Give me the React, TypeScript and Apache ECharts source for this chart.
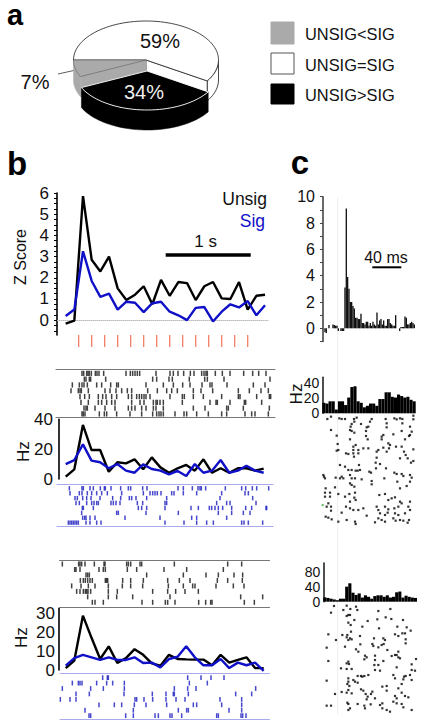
import React, { useEffect, useRef } from "react";
import * as echarts from "echarts";

const FONT = "'Liberation Sans', Arial, sans-serif";

// Panel a: share of cells
const pieNames = ["UNSIG=SIG", "UNSIG>SIG", "UNSIG<SIG"];
const pieValues = [59, 34, 7];
const pieLabels = ["59%", "34%", "7%"];

// Panel b: population z score, one value per 100 ms bin
const zUnsig = [-0.16, -0.02, 5.85, 2.85, 2.3, 3.0, 1.5, 0.95, 1.2, 1.6, 0.75, 1.9, 1.15, 1.8, 1.75, 0.95, 1.6, 1.8, 1.03, 1.0, 1.8, 0.5, 1.15, 1.2];
const zSig = [0.2, 0.5, 3.25, 1.85, 1.1, 1.25, 0.5, 0.87, 0.82, 0.38, 0.8, 0.87, 0.4, 0.23, 0, 0.58, 0.62, -0.06, 0.4, 0.75, 0.6, 0.9, 0.23, 0.7];
const stimBins = [1.5, 3, 4.5, 6, 7.5, 9, 10.5, 12, 13.5, 15, 16.5, 18, 19.5, 21];
const zTicks = [-0.5, -0.25, 0, 0.25, 0.5, 0.75, 1, 1.25, 1.5, 1.75, 2, 2.25, 2.5, 2.75, 3, 3.25, 3.5, 3.75, 4, 4.25, 4.5, 4.75, 5, 5.25, 5.5, 5.75, 6];

// Panel b: single-cell firing rates
const hz1Unsig = [1.6, 6.5, 36.2, 19.4, 19.4, 4.9, 11.2, 10.5, 13.2, 6.5, 14.5, 7.8, 4.2, 7.2, 9.4, 5.6, 13.2, 4.2, 7.2, 4.2, 7.2, 7.2, 5.6, 6.9];
const hz1Sig = [10, 12.7, 23.2, 12.3, 11.2, 7.2, 10, 5.6, 4.2, 9.8, 6.7, 5.6, 3.1, 5.4, 2, 10, 4.2, 5.6, 12.7, 4.2, 5.6, 8.9, 5.6, 4.2];
const hz2Unsig = [1, 5, 28.7, 17, 5.8, 12.5, 3.7, 6.3, 11, 8, 3.5, 2.3, 8, 5.8, 5.6, 5.5, 5.5, 2.5, 8, 3.9, 5.3, 6.7, 1, 1];
const hz2Sig = [2.3, 6.3, 8, 6.7, 5.3, 6.7, 5.3, 5.3, 6.7, 3.7, 3.9, 1.4, 5.8, 7, 12.5, 6.7, 2.5, 2.5, 5.8, 1, 3.9, 2.5, 3.9, -0.4];

// Panel b rasters: spike times per trial, in thirds of a picture pixel along the time axis
const rasterUnsig1 = [
  [246, 251, 260, 264, 268, 274, 286, 291, 297, 311, 378, 391, 398, 405, 412, 419, 468, 510, 520, 534, 551, 571, 582, 605, 612, 618, 622, 646, 667, 690, 731, 758, 776, 798],
  [253, 258, 268, 272, 317, 458, 470, 507, 517, 568, 614, 622, 672, 810],
  [217, 238, 246, 252, 262, 290, 305, 332, 350, 355, 438, 490, 520, 548, 570, 606, 630, 636, 681, 760, 795],
  [213, 235, 240, 244, 265, 315, 330, 348, 365, 382, 395, 443, 472, 500, 515, 532, 580, 603, 638, 715, 748, 783, 805],
  [240, 254, 268, 295, 308, 318, 335, 350, 385, 395, 410, 418, 425, 432, 438, 450, 510, 547, 553, 580, 610, 665, 715, 720, 770, 808, 812],
  [243, 265, 295, 305, 320, 335, 345, 395, 420, 432, 460, 468, 472, 480, 490, 547, 630, 648, 652, 690, 733, 737, 785],
  [252, 258, 262, 285, 315, 345, 385, 395, 405, 425, 438, 460, 468, 490, 580, 615, 680, 685, 730, 808],
  [246, 250, 255, 298, 313, 320, 350, 390, 425, 458, 470, 477, 483, 490, 525, 552, 560, 590, 625, 665, 680, 735, 755, 765, 805],
];
const rasterSig1 = [
  [208, 246, 250, 270, 280, 301, 313, 316, 333, 362, 385, 392, 428, 441, 534, 550, 577, 594, 600, 604, 617, 676, 725, 737, 757, 770, 806],
  [210, 238, 246, 262, 275, 290, 305, 322, 365, 430, 450, 458, 465, 472, 483, 515, 522, 550, 590, 665, 735, 745],
  [225, 232, 248, 260, 273, 300, 338, 362, 388, 395, 408, 440, 500, 660, 758],
  [228, 238, 260, 275, 282, 290, 295, 333, 340, 348, 360, 412, 428, 495, 500, 650, 680, 690, 768],
  [247, 250, 280, 415, 425, 440, 495, 573, 595, 628, 635, 645, 655, 668, 695, 737, 755, 798, 800],
  [245, 350, 355, 438, 535, 655, 695, 730, 750],
  [248, 254, 258, 270, 285, 375, 480, 575, 590, 680],
  [205, 210, 215, 220, 225, 230, 235, 258, 270, 290, 303, 495, 552, 590, 620, 640, 725, 732, 745, 788],
];
const rasterUnsig2 = [
  [187, 236, 240, 245, 255, 283, 312, 315, 380, 385, 392, 420, 425, 523, 683, 725],
  [224, 228, 240, 297, 310, 316, 382, 410, 492, 560, 670],
  [258, 263, 268, 440, 550, 618, 655, 702, 728],
  [241, 250, 256, 263, 270, 277, 316, 320, 323, 368, 392, 430, 503, 538, 570, 652, 683, 727],
  [215, 243, 265, 285, 325, 367, 392, 428, 505, 550, 578, 585, 648, 700, 732],
  [230, 240, 250, 256, 260, 264, 272, 325, 352, 458, 503, 527, 555, 595],
  [263, 325, 350, 398, 510, 722, 788],
  [277, 285, 310, 426, 458, 496, 503, 525, 596, 617, 632, 636, 733, 763],
];
const rasterSig2 = [
  [308, 322, 325, 563, 603, 633, 672],
  [217, 235, 240, 246, 290, 320, 338, 373, 568, 622],
  [187, 272, 310, 373, 523, 563, 588, 767],
  [228, 268, 372, 457, 498, 520, 523, 565, 707, 755],
  [181, 210, 228, 405, 410, 432, 458, 498, 528, 555, 660, 725],
  [297, 343, 365, 403, 438, 500, 580, 590, 665, 725],
  [255, 400, 535, 560, 565, 687, 725],
  [267, 272, 377, 400, 465, 475, 510, 516, 545, 650, 655, 723, 728, 738],
];

// Panel c: histograms
const histTop = [-0.3, -0.35, 0, 0.25, 0, 0, 0.3, 0.25, 0.2, 0.2, -0.2, 0, -0.2, -0.2, -0.2, 3.1, 9.1, 3.9, 3, 2, 2, 1.7, 1.5, 0.8, 0.8, 0.7, 0.7, 1.1, 0.4, 0.4, 0.3, 0.5, 0.5, 0.2, 0.4, 0.2, 0.5, 0.3, 0.2, 1.2, 0.3, 0.6, 0.7, 0.3, 0.6, 0.2, 0.2, 0.7, 0.7, 0.4, 0.3, 0.2, 0.2, 1, 0, 0, -0.2, 0.1, 0.1, 0.1, 0.9, 0.8, 0.3, 0.3, 0.4, 0.5, 0.4, 0.3];
const histMid = [14, 13, 16, 16, 5, 16, 16, 11, 21, 35, 36, 16, 14, 8, 10, 13, 13, 10, 19, 19, 28, 28, 22, 21, 25, 23, 21, 22, 18, 16];
const histBot = [11.5, 10, 8, 6, 4, 8, 8, 40, 49, 24, 18, 22, 11, 17, 13, 8, 15, 17, 17, 13, 17, 11, 13, 25, 27, 11, 16, 13, 11, 10];

// Panel c: dot rasters, [time, trial position], both in thirds of a picture pixel
const dotsMid = [[127,207],[138,200],[163,205],[170,207],[180,207],[207,207],[215,203],[260,207],[302,207],[328,205],[335,208],[345,205],[352,207],[385,197],[385,208],[208,215],[228,222],[255,215],[305,220],[352,220],[200,222],[197,230],[245,232],[250,230],[375,230],[305,232],[138,240],[195,240],[200,243],[208,248],[243,243],[350,243],[380,245],[375,255],[372,258],[295,255],[290,260],[325,253],[155,257],[243,258],[195,268],[248,268],[290,268],[360,268],[158,282],[205,290],[212,285],[310,280],[315,285],[333,290],[350,290],[235,295],[250,295],[295,293],[280,300],[155,302],[160,300],[205,300],[220,300],[183,310],[190,312],[205,310],[220,310],[275,305],[312,295],[305,305],[357,305],[385,298],[362,315],[345,325],[368,325],[385,333],[207,320],[275,323],[378,338],[285,342],[272,338],[165,345],[180,350],[222,345],[190,360],[200,360],[212,362],[218,362],[225,360],[253,365],[258,368],[273,355],[303,355],[328,368],[335,372],[350,372],[355,378],[375,375],[380,383],[115,375],[117,380],[120,385],[152,383],[170,380],[175,385],[165,385],[195,375],[200,385],[210,385],[260,393],[260,403],[230,388],[298,385],[195,400],[200,405],[337,395],[375,395],[365,408],[208,410],[122,415],[150,412],[120,428],[135,428],[135,440],[120,440],[160,432],[193,432],[210,428],[300,432],[283,435],[345,415],[320,445],[330,442],[375,455],[180,440],[208,443],[212,450],[195,455],[310,450],[345,455],[350,460],[340,470],[130,460],[125,470],[138,470],[138,482],[183,470],[195,475],[205,480],[220,480],[235,475],[275,470],[280,480],[300,470],[310,478],[328,475],[370,470],[375,480],[170,488],[245,497],[270,517],[285,490],[300,495],[308,488],[330,490],[340,495],[360,490],[122,500],[130,503],[140,508],[160,515],[185,510],[210,515],[212,522],[290,510],[300,515],[325,505],[332,512],[345,510],[355,512],[368,518],[372,510],[280,505]];
const dotsMidGreen = [[113,465]];
const dotsBot = [[147,198],[138,218],[175,210],[185,197],[196,207],[213,200],[217,210],[280,213],[316,207],[190,225],[185,228],[195,225],[208,240],[248,243],[277,238],[302,232],[319,237],[354,240],[190,248],[197,255],[232,260],[337,260],[365,262],[377,272],[282,265],[198,275],[130,283],[172,285],[187,285],[185,292],[195,295],[200,298],[190,300],[225,288],[330,283],[340,288],[360,280],[352,280],[153,300],[362,298],[362,310],[267,295],[295,295],[300,300],[262,312],[265,318],[180,320],[125,323],[226,313],[290,315],[296,312],[280,322],[213,328],[220,335],[307,330],[340,335],[335,345],[240,347],[245,352],[238,358],[270,347],[330,345],[320,348],[130,363],[190,365],[185,370],[192,372],[270,360],[295,363],[340,352],[345,355],[393,357],[168,385],[185,387],[200,387],[268,375],[280,375],[380,373],[335,382],[270,390],[285,392],[380,390],[250,405],[238,408],[325,405],[357,410],[362,408],[375,405],[390,392],[218,408],[228,408],[232,410],[190,415],[205,420],[210,425],[330,415],[355,418],[380,420],[125,422],[190,425],[187,432],[193,438],[218,428],[228,448],[235,452],[305,438],[292,440],[350,432],[340,445],[190,450],[170,456],[185,458],[200,460],[150,462],[242,462],[248,470],[245,478],[258,462],[262,455],[270,475],[330,468],[335,475],[360,468],[370,472],[350,458],[305,452],[125,497],[138,497],[187,488],[190,492],[195,505],[190,510],[218,492],[238,497],[240,505],[257,493],[285,495],[292,505],[305,510],[315,515],[325,485],[335,490],[350,492],[355,502],[380,510],[292,490]];

const BLACK = "#000000";
const BLUE = "#1010c8";
const FAINT_BLUE = "#a9a9ee";

function arcPoints(cx: number, cy: number, rx: number, ry: number, a0: number, a1: number) {
  const n = Math.max(2, Math.ceil(Math.abs(a1 - a0) / 3));
  const pts: number[][] = [];
  for (let i = 0; i <= n; i++) {
    const t = ((a0 + ((a1 - a0) * i) / n) * Math.PI) / 180;
    pts.push([cx + rx * Math.cos(t), cy + ry * Math.sin(t)]);
  }
  return pts;
}

function renderSlice(params: any, api: any) {
  const idx = params.dataIndex;
  const value = api.value(0);
  let start = 180;
  for (let i = 0; i < idx; i++) start += (pieValues[i] * 360) / 100;
  const end = start + (value * 360) / 100;
  const rx = 72.5;
  const ry = 39;
  const children: any[] = [];
  const poly = (points: number[][], style: any, z2: number) =>
    children.push({ type: "polygon", shape: { points }, style, z2 });
  const norm = (a: number) => ((a % 360) + 360) % 360;

  if (idx === 0) {
    const cx = 146, cy = 60, d = 20;
    const s = { fill: "#fff", stroke: "#333", lineWidth: 0.9 };
    const top = arcPoints(cx, cy, rx, ry, 360, end);
    const bot = arcPoints(cx, cy + d, rx, ry, end, 360);
    poly([...top, ...bot], s, 1);
    const e = arcPoints(cx, cy, rx, ry, end, end)[0];
    poly([[cx, cy], e, [e[0], e[1] + d], [cx, cy + d]], s, 1);
    poly([[cx, cy], ...arcPoints(cx, cy, rx, ry, start, end)], s, 2);
  } else if (idx === 1) {
    const cx = 147, cy = 71, d = 20;
    const a0 = norm(start), a1 = a0 + (value * 360) / 100;
    const top = arcPoints(cx, cy, rx, ry, a0, a1);
    const bot = arcPoints(cx, cy + d, rx, ry, a1, a0);
    poly([...top, ...bot], { fill: "#000", stroke: "#000", lineWidth: 0.5 }, 6);
    poly([[cx, cy], ...top], { fill: "#000", stroke: "#fff", lineWidth: 0.9 }, 7);
  } else {
    const cx = 146, cy = 60, d = 20;
    const a0 = norm(start), a1 = a0 + (value * 360) / 100;
    const fill = "#aaaaaa";
    const top = arcPoints(cx, cy, rx, ry, a0, a1);
    const bot = arcPoints(cx, cy + d, rx, ry, a1, a0);
    poly([...top, ...bot], { fill, stroke: fill, lineWidth: 0.5 }, 3);
    const e = top[0];
    poly([[cx, cy], e, [e[0], e[1] + d], [cx, cy + d]], { fill, stroke: fill, lineWidth: 0.5 }, 3);
    poly([[cx, cy], ...top], { fill, stroke: "#666", lineWidth: 0.7 }, 4);
  }
  const labelPos = [[160, 41, "#111"], [144, 92, "#eee"], [35, 82, "#111"]][idx];
  children.push({
    type: "text",
    z2: 9,
    style: {
      x: labelPos[0],
      y: labelPos[1],
      text: pieLabels[idx],
      fill: labelPos[2],
      font: `20px ${FONT}`,
      textAlign: "center",
      textVerticalAlign: "middle",
    },
  });
  return { type: "group", children };
}

function pairs(values: number[]) {
  return values.map((v, i) => [i, v]);
}

function rowsToPoints(rows: number[][]) {
  return rows.flatMap((r, i) => r.map((t) => [t, i + 1]));
}

export default function App() {
  const ref = useRef<HTMLDivElement>(null);
  useEffect(() => {
    if (!ref.current) return;
    const chart = echarts.init(ref.current, undefined, { renderer: "svg", width: 423, height: 726 });

    const grids: any[] = [];
    const xAxes: any[] = [];
    const yAxes: any[] = [];
    const series: any[] = [];

    const addGrid = (l: number, t: number, r: number, b: number, x: any, y: any, x2?: any) => {
      const g = grids.length;
      grids.push({ left: l, top: t, width: r - l, height: b - t, containLabel: false, show: false });
      const xi = xAxes.length;
      xAxes.push({ gridIndex: g, show: false, ...x });
      if (x2) xAxes.push({ gridIndex: g, ...x2 });
      const yi = yAxes.length;
      yAxes.push({ gridIndex: g, show: false, splitLine: { show: false }, ...y });
      return { xi, yi };
    };

    const yNumberAxis = (min: number, max: number, labels: number[], ticks: number[], offset: number, size: number, margin: number, color = "#000") => ({
      show: true,
      type: "value",
      min,
      max,
      position: "left",
      offset,
      axisLine: { show: true, onZero: false, lineStyle: { color, width: 1.6 } },
      axisTick: { show: ticks.length > 0, length: 3, customValues: ticks, lineStyle: { color, width: 1 } },
      axisLabel: { show: true, customValues: labels, fontSize: size, color: "#111", fontFamily: FONT, margin },
      splitLine: { show: false },
    });

    const lineSeries = (a: any, data: number[], color: string, width = 2.4) => ({
      type: "line",
      xAxisIndex: a.xi,
      yAxisIndex: a.yi,
      data: pairs(data),
      showSymbol: false,
      symbol: "none",
      clip: false,
      lineStyle: { color, width },
      silent: true,
    });

    // Panel b, z score
    const zAxes = addGrid(
      57, 193, 268.5, 335,
      { type: "value", min: -1, max: 23.4, show: true, axisLine: { show: true, onZero: true, lineStyle: { color: "#bbbbbb", type: "dotted", width: 1 } }, axisTick: { show: false }, axisLabel: { show: false }, splitLine: { show: false } },
      yNumberAxis(-0.7, 6, [0, 1, 2, 3, 4, 5, 6], zTicks, 0, 17, 8)
    );
    series.push(lineSeries(zAxes, zUnsig, BLACK), lineSeries(zAxes, zSig, BLUE));

    // Panel b, stimulus marks
    const stimAxes = addGrid(57, 335, 268.5, 347, { type: "value", min: -1, max: 23.4 }, { type: "value", min: 0, max: 1 });
    series.push({
      type: "scatter",
      xAxisIndex: stimAxes.xi,
      yAxisIndex: stimAxes.yi,
      data: stimBins.map((b) => [b, 0.5]),
      symbol: "rect",
      symbolSize: [1.3, 12],
      itemStyle: { color: "#ee5f3e" },
      silent: true,
    });

    const raster = (l: number, t: number, r: number, b: number, yMin: number, yMax: number, rows: number[][], color: string, lineColor: string, tickH: number) => {
      const xMin = l * 3;
      const xMax = r * 3;
      const lineAxis = (position: string) => ({
        show: true,
        type: "value",
        min: xMin,
        max: xMax,
        position,
        axisLine: { show: true, onZero: false, lineStyle: { color: lineColor, width: 1 } },
        axisTick: { show: false },
        axisLabel: { show: false },
        splitLine: { show: false },
      });
      const a = addGrid(l, t, r, b, { ...lineAxis("top") }, { type: "value", min: yMin, max: yMax, inverse: true }, lineAxis("bottom"));
      series.push({
        type: "scatter",
        xAxisIndex: a.xi,
        yAxisIndex: a.yi,
        data: rowsToPoints(rows),
        symbol: "rect",
        symbolSize: [1.5, tickH],
        itemStyle: { color },
        silent: true,
      });
    };

    raster(56, 369.3, 275, 417.7, 0.3, 8.65, rasterUnsig1, "#111111", "#777777", 5.2);
    raster(57, 484.3, 273, 526, 0.18, 8.68, rasterSig1, "#1a1ac0", FAINT_BLUE, 4.4);
    raster(59.5, 560.7, 269.5, 607.3, 0.39, 8.91, rasterUnsig2, "#111111", "#777777", 5);
    raster(60, 673.3, 269.5, 719.3, 0.2, 8.67, rasterSig2, "#1a1ac0", FAINT_BLUE, 4.8);

    // Panel b, firing rates
    const h1 = addGrid(59, 419.3, 265.4, 479, { type: "value", min: -0.78, max: 23.2 }, yNumberAxis(0, 40, [0, 20, 40], [], 0, 17, 6));
    series.push(lineSeries(h1, hz1Unsig, BLACK), lineSeries(h1, hz1Sig, BLUE));
    const h2 = addGrid(59, 608.3, 265.4, 670, { type: "value", min: -0.78, max: 23.2 }, yNumberAxis(0, 32.6, [0, 10, 20, 30], [], 0, 17, 4));
    series.push(lineSeries(h2, hz2Unsig, BLACK), lineSeries(h2, hz2Sig, BLUE));

    // Panel c, histograms
    const barSeries = (a: any, data: number[], color: string) => ({
      type: "bar",
      xAxisIndex: a.xi,
      yAxisIndex: a.yi,
      data,
      barWidth: "100%",
      barCategoryGap: "0%",
      itemStyle: { color },
      silent: true,
    });
    const cat = (data: number[]) => ({ type: "category", data: data.map((_, i) => String(i)) });
    const c1 = addGrid(324.3, 196.7, 415, 341.5, cat(histTop), yNumberAxis(-1, 10, [0, 2, 4, 6, 8, 10], [-1, 0, 1, 2, 3, 4, 5, 6, 7, 8, 9, 10], 1.3, 16, 8, "#444"));
    series.push(barSeries(c1, histTop, "#111"));
    const c2 = addGrid(322.3, 377.3, 415.7, 413.3, cat(histMid), yNumberAxis(0, 48, [0, 20, 40], [], 0, 14, 3, "#222"));
    series.push(barSeries(c2, histMid, "#000"));
    const c3 = addGrid(323.3, 563, 417, 601.7, cat(histBot), yNumberAxis(0, 103, [0, 40, 80], [], 0, 14, 3, "#222"));
    series.push(barSeries(c3, histBot, "#000"));

    // Panel c, dot rasters
    const dotSeries = (a: any, data: number[][], color: string) => ({
      type: "scatter",
      xAxisIndex: a.xi,
      yAxisIndex: a.yi,
      data,
      symbol: "rect",
      symbolSize: [2.2, 2.2],
      itemStyle: { color },
      silent: true,
    });
    const d1 = addGrid(318, 412, 418, 532, { type: "value", min: 99, max: 399 }, { type: "value", min: 186, max: 546, inverse: true });
    series.push(dotSeries(d1, dotsMid, "#000"), dotSeries(d1, dotsMidGreen, "#4caf50"));
    const d2 = addGrid(318, 602, 418, 718, { type: "value", min: 99, max: 399 }, { type: "value", min: 186, max: 534, inverse: true });
    series.push(dotSeries(d2, dotsBot, "#000"));

    // Panel a, the pie
    series.push({
      type: "custom",
      coordinateSystem: "none",
      renderItem: renderSlice,
      data: pieValues.map((v, i) => ({ name: pieNames[i], value: [v] })),
      silent: true,
      clip: false,
    });

    const text = (x: number, y: number, s: string, size: number, extra: any = {}) => ({
      type: "text",
      x,
      y,
      silent: true,
      style: { text: s, fill: "#111", font: `${size}px ${FONT}`, textAlign: "center", textVerticalAlign: "middle", ...extra.style },
      ...(extra.rotation !== undefined ? { rotation: extra.rotation } : {}),
    });
    const boldLetter = (x: number, y: number, s: string, size: number) => ({
      type: "text",
      x,
      y,
      silent: true,
      style: { text: s, fill: "#000", font: `bold ${size}px ${FONT}`, textAlign: "center", textVerticalAlign: "middle" },
    });
    const legendColors = ["#aaaaaa", "#ffffff", "#000000"];
    const legendTexts = ["UNSIG<SIG", "UNSIG=SIG", "UNSIG>SIG"];
    const legendTop = [22, 53, 84];
    const legendH = [22, 21, 20];

    const graphic: any[] = [
      boldLetter(15, 15, "a", 29),
      boldLetter(17, 163, "b", 33),
      boldLetter(300, 162.5, "c", 33),
      { type: "line", silent: true, z: -1, shape: { x1: 58, y1: 74, x2: 85, y2: 68 }, style: { stroke: "#333", lineWidth: 0.8 } },
      { type: "line", silent: true, shape: { x1: 337.7, y1: 197, x2: 337.7, y2: 715 }, style: { stroke: "#eeeeee", lineWidth: 1 } },
      ...legendTexts.map((s, i) => ({
        type: "rect",
        silent: true,
        shape: { x: 271, y: legendTop[i], width: 23, height: legendH[i] },
        style: { fill: legendColors[i], stroke: i === 1 ? "#555" : legendColors[i], lineWidth: 1 },
      })),
      ...legendTexts.map((s, i) => ({
        type: "text",
        silent: true,
        x: 305,
        y: legendTop[i] + legendH[i] / 2 + 1,
        style: { text: s, fill: "#111", font: `16.4px ${FONT}`, textAlign: "left", textVerticalAlign: "middle" },
      })),
      text(20, 257, "Z Score", 16, { rotation: Math.PI / 2 }),
      { ...text(267, 199, "Unsig", 17.5), style: { text: "Unsig", fill: "#111", font: `17.5px ${FONT}`, textAlign: "right", textVerticalAlign: "middle" } },
      { ...text(265, 221, "Sig", 17.5), style: { text: "Sig", fill: BLUE, font: `17.5px ${FONT}`, textAlign: "right", textVerticalAlign: "middle" } },
      text(205.7, 241.7, "1 s", 17),
      { type: "rect", silent: true, shape: { x: 165.7, y: 253.3, width: 85, height: 3.4 }, style: { fill: "#000" } },
      text(23, 451.7, "Hz", 17, { rotation: Math.PI / 2 }),
      text(21, 637.7, "Hz", 17, { rotation: Math.PI / 2 }),
      text(296, 394, "Hz", 17, { rotation: Math.PI / 2 }),
      text(386, 257, "40 ms", 16),
      { type: "rect", silent: true, shape: { x: 372.3, y: 266.3, width: 29, height: 2 }, style: { fill: "#000" } },
    ];

    chart.setOption({
      animation: false,
      backgroundColor: "#ffffff",
      textStyle: { fontFamily: FONT },
      grid: grids,
      xAxis: xAxes,
      yAxis: yAxes,
      series,
      graphic,
    });
    return () => chart.dispose();
  }, []);
  return <div ref={ref} style={{ position: "absolute", left: 0, top: 0, width: 423, height: 726 }} />;
}
